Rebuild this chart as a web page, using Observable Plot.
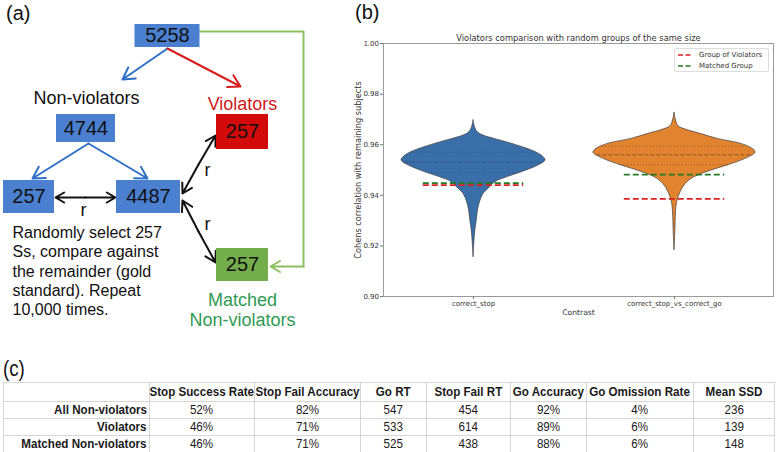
<!DOCTYPE html>
<html><head><meta charset="utf-8">
<script src="https://cdn.jsdelivr.net/npm/d3@7"></script>
<script src="https://cdn.jsdelivr.net/npm/@observablehq/plot@0.6"></script>
<style>
body{margin:0;background:#fff;}
#root{position:relative;width:776px;height:452px;overflow:hidden;font-family:"Liberation Sans",Arial,sans-serif;}
.plabel{position:absolute;font-family:"Liberation Sans",Arial,sans-serif;font-size:20px;color:#111;line-height:1;}
#legend{position:absolute;left:674px;top:48px;width:93px;height:22px;border:1px solid #ddd;border-radius:2px;background:rgba(255,255,255,0.85);font-family:"DejaVu Sans",sans-serif;font-size:7px;color:#333;}
#legend .row{position:absolute;left:3px;height:10px;display:flex;align-items:center;}
#legend svg{margin-right:6px;}
#tbl{position:absolute;left:3px;top:382px;border-collapse:collapse;font-family:"Liberation Sans",Arial,sans-serif;font-size:13.5px;color:#1a1a1a;table-layout:fixed;}
#tbl td,#tbl th{border:1px solid #d6d6d6;padding:0 2px;height:16px;line-height:16px;text-align:center;white-space:nowrap;overflow:visible;}
#tbl th{font-weight:bold;height:18px;}
#tbl td.rh{font-weight:bold;text-align:right;}
#tbl span{display:inline-block;transform:scaleX(0.86);transform-origin:center;margin:0 -40px;}
#tbl td.rh span{transform-origin:right;margin:0 0 0 -60px;}
</style></head><body><div id="root"></div>
<script>
// ================= DATA =================
// Panel (a): group sizes
const totalSubjects = "5258";
const nonViolatorsN = "4744";
const randomSampleN = "257";
const remainderN = "4487";
const violatorsN = "257";
const matchedN = "257";
const diagramTexts = ["Non-violators", "Violators", "Matched", "Non-violators", "r"];
const procedureText = ["Randomly select 257", "Ss, compare against", "the remainder (gold", "standard). Repeat", "10,000 times."];

// Panel (b): violin profiles (correlation value, half-width in category units)
const contrasts = ["correct_stop", "correct_stop_vs_correct_go"];
const stopValues = [0.9696, 0.9669, 0.9650, 0.9636, 0.9623, 0.9604, 0.9571, 0.9551, 0.9538, 0.9518, 0.9491, 0.9472, 0.9452, 0.9426, 0.9406, 0.9373, 0.9340, 0.9300, 0.9261, 0.9208, 0.9155];
const stopWidths = [0, 0.0075, 0.02, 0.05, 0.104, 0.189, 0.308, 0.348, 0.358, 0.323, 0.239, 0.169, 0.109, 0.075, 0.05, 0.032, 0.022, 0.016, 0.009, 0.0035, 0];
const goValues = [0.9726, 0.9696, 0.9673, 0.9660, 0.9643, 0.9623, 0.9604, 0.9584, 0.9568, 0.9544, 0.9518, 0.9491, 0.9465, 0.9439, 0.9412, 0.9373, 0.9333, 0.9254, 0.9182];
const goWidths = [0, 0.0075, 0.02, 0.055, 0.129, 0.214, 0.328, 0.388, 0.403, 0.353, 0.264, 0.159, 0.085, 0.05, 0.03, 0.013, 0.0075, 0.004, 0];
const stopQuartiles = [0.9491, 0.9531, 0.9570];
const goQuartiles = [0.9521, 0.9560, 0.9594];
const violatorsCorr = [0.9440, 0.9386];
const matchedCorr = [0.9448, 0.9482];
const yTicks = [0.90, 0.92, 0.94, 0.96, 0.98, 1.00];
const legendLabels = ["Group of Violators", "Matched Group"];
const chartTitle = "Violators comparison with random groups of the same size";
const yLabel = "Cohens correlation with remaining subjects";
const xLabel = "Contrast";

// Panel (c): table
const tableColumns = ["Stop Success Rate", "Stop Fail Accuracy", "Go RT", "Stop Fail RT", "Go Accuracy", "Go Omission Rate", "Mean SSD"];
const tableRowNames = ["All Non-violators", "Violators", "Matched Non-violators"];
const allNonViolatorsRow = ["52%", "82%", "547", "454", "92%", "4%", "236"];
const violatorsRow = ["46%", "71%", "533", "614", "89%", "6%", "139"];
const matchedRow = ["46%", "71%", "525", "438", "88%", "6%", "148"];

// ================= LAYOUT / STYLE =================
const root = document.getElementById("root");
const BLUE_BOX = "#4b7fd0", RED_BOX = "#d20a0a", GREEN_BOX = "#74ae4c";
const BLUE_ARROW = "#2f6fc5", RED_ARROW = "#d81c1c", GREEN_LINE = "#8dc05f";

function addLabel(txt, left, top) {
  const d = document.createElement("div");
  d.className = "plabel"; d.textContent = txt;
  d.style.left = left + "px"; d.style.top = top + "px";
  root.appendChild(d);
  return d;
}

// ---------- Panel (a) diagram ----------
const nodeLayout = [
  {cx: 167, cy: 35.5, w: 65, h: 23, fill: BLUE_BOX},
  {cx: 85.5, cy: 128, w: 59, h: 28, fill: BLUE_BOX},
  {cx: 28.5, cy: 196.5, w: 51, h: 33, fill: BLUE_BOX},
  {cx: 148, cy: 196.5, w: 64, h: 33, fill: BLUE_BOX},
  {cx: 242, cy: 131.5, w: 52, h: 35, fill: RED_BOX},
  {cx: 242, cy: 264.5, w: 52, h: 33, fill: GREEN_BOX}
];
const nodeLabels = [totalSubjects, nonViolatorsN, randomSampleN, remainderN, violatorsN, matchedN];
const nodes = nodeLabels.map((label, i) => ({label, ...nodeLayout[i]}));

const arrowLayout = [
  {x1: 167, y1: 48, x2: 122, y2: 79, c: BLUE_ARROW},
  {x1: 167, y1: 48, x2: 240, y2: 86, c: RED_ARROW},
  {x1: 88, y1: 143, x2: 32, y2: 178, c: BLUE_ARROW},
  {x1: 88, y1: 143, x2: 147, y2: 178, c: BLUE_ARROW},
  {x1: 85, y1: 197, x2: 55, y2: 197, c: "#111"},
  {x1: 85, y1: 197, x2: 115, y2: 197, c: "#111"},
  {x1: 198, y1: 164, x2: 182, y2: 193, c: "#111"},
  {x1: 198, y1: 164, x2: 215, y2: 135, c: "#111"},
  {x1: 198, y1: 231, x2: 182, y2: 200, c: "#111"},
  {x1: 198, y1: 231, x2: 215, y2: 262, c: "#111"},
  {x1: 303, y1: 266, x2: 270, y2: 266, c: GREEN_LINE}
];
const greenPath = [{x: 199, y: 31}, {x: 303, y: 31}, {x: 303, y: 266}];
const textLayout = [
  {t: diagramTexts[0], x: 86, y: 98, c: "#111"},
  {t: diagramTexts[1], x: 242, y: 104, c: "#d01818"},
  {t: diagramTexts[2], x: 242, y: 300, c: "#2f9a55"},
  {t: diagramTexts[3], x: 242, y: 320, c: "#2f9a55"},
  {t: diagramTexts[4], x: 83, y: 210, c: "#111"},
  {t: diagramTexts[4], x: 207, y: 170, c: "#111"},
  {t: diagramTexts[4], x: 207, y: 224, c: "#111"}
];

const plotA = Plot.plot({
  width: 330, height: 332, margin: 0,
  x: {domain: [0, 330], range: [0, 330]},
  y: {domain: [0, 332], range: [0, 332]},
  color: {type: "identity"},
  axis: null,
  style: {fontFamily: "'Liberation Sans', Arial, sans-serif", background: "transparent", overflow: "visible"},
  marks: [
    Plot.line(greenPath, {x: "x", y: "y", stroke: GREEN_LINE, strokeWidth: 2}),
    Plot.arrow(arrowLayout, {x1: "x1", y1: "y1", x2: "x2", y2: "y2", stroke: "c", strokeWidth: 2, headLength: 10, headAngle: 60}),
    Plot.rect(nodes, {x1: d => d.cx - d.w / 2, x2: d => d.cx + d.w / 2, y1: d => d.cy - d.h / 2, y2: d => d.cy + d.h / 2, fill: "fill"}),
    Plot.text(nodes, {x: "cx", y: "cy", text: "label", fontSize: 20, fill: "#111"}),
    Plot.text(textLayout, {x: "x", y: "y", text: "t", fill: "c", fontSize: 18}),
    Plot.text([procedureText.join("\n")], {x: 12, y: 224, textAnchor: "start", lineAnchor: "top", lineHeight: 1.2, fontSize: 16, fill: "#111"})
  ]
});
plotA.style.position = "absolute"; plotA.style.left = "0px"; plotA.style.top = "0px";
root.appendChild(plotA);

// ---------- Panel (b) violins ----------
function interp(values, widths, v) {
  for (let i = 0; i < values.length - 1; i++) {
    const a = values[i], b = values[i + 1];
    if (v <= a && v >= b) { const t = (a - v) / (a - b); return widths[i] + t * (widths[i + 1] - widths[i]); }
  }
  return 0;
}
const profiles = [
  {values: stopValues, widths: stopWidths, q: stopQuartiles, fill: "#3a6ea8", inner: "rgba(20,40,80,0.35)"},
  {values: goValues, widths: goWidths, q: goQuartiles, fill: "#e1832f", inner: "rgba(70,40,15,0.55)"}
];
const violinMarks = [];
profiles.forEach((p, i) => {
  const rows = p.values.map((v, j) => ({value: v, hw: p.widths[j]}));
  violinMarks.push(Plot.areaX(rows, {y: "value", x1: d => i - d.hw, x2: d => i + d.hw, fill: p.fill, stroke: "#3d3d3d", strokeWidth: 0.7, curve: "catmull-rom"}));
  const qs = p.q.map((v, k) => ({value: v, hw: interp(p.values, p.widths, v), median: k === 1}));
  violinMarks.push(Plot.ruleY(qs.filter(d => !d.median), {y: "value", x1: d => i - d.hw, x2: d => i + d.hw, stroke: p.inner, strokeWidth: 0.8, strokeDasharray: "1,2"}));
  violinMarks.push(Plot.ruleY(qs.filter(d => d.median), {y: "value", x1: d => i - d.hw, x2: d => i + d.hw, stroke: p.inner, strokeWidth: 0.9, strokeDasharray: "4,2"}));
});
const violRows = contrasts.map((c, i) => ({pos: i, v: violatorsCorr[i]}));
const matchRows = contrasts.map((c, i) => ({pos: i, v: matchedCorr[i]}));
const RED_DASH = "#d92222", GREEN_DASH = "#237a23";

const plotB = Plot.plot({
  width: 446, height: 320,
  marginLeft: 53, marginRight: 3, marginTop: 43, marginBottom: 24,
  x: {domain: [-0.448, 1.4925]},
  y: {domain: [0.9, 1.0]},
  style: {fontFamily: "'DejaVu Sans', sans-serif", color: "#333", background: "transparent", overflow: "visible"},
  marks: [
    ...violinMarks,
    Plot.ruleY(violRows, {y: "v", x1: d => d.pos - 0.25, x2: d => d.pos + 0.25, stroke: RED_DASH, strokeWidth: 1.8, strokeDasharray: "6,3"}),
    Plot.ruleY(matchRows, {y: "v", x1: d => d.pos - 0.25, x2: d => d.pos + 0.25, stroke: GREEN_DASH, strokeWidth: 1.8, strokeDasharray: "6,3"}),
    Plot.frame({stroke: "#9a9a9a", strokeWidth: 1}),
    Plot.axisY(yTicks, {tickFormat: d3.format(".2f"), tickSize: 3, tickPadding: 1.5, fontSize: 7, label: null, stroke: "#777"}),
    Plot.axisX([0, 1], {tickFormat: i => contrasts[i], tickSize: 3, tickPadding: 1.5, fontSize: 7, label: null, stroke: "#777"}),
    Plot.text([chartTitle], {frameAnchor: "top", dy: -5, textAnchor: "middle", lineAnchor: "middle", fontSize: 8.3, fill: "#333"}),
    Plot.text([xLabel], {frameAnchor: "bottom", dy: 16, textAnchor: "middle", lineAnchor: "middle", fontSize: 7.6, fill: "#333"}),
    Plot.text([yLabel], {frameAnchor: "left", dx: -25, rotate: -90, textAnchor: "middle", lineAnchor: "middle", fontSize: 8.2, fill: "#333"})
  ]
});
plotB.style.position = "absolute"; plotB.style.left = "330px"; plotB.style.top = "0px";
root.appendChild(plotB);

// legend
const legend = document.createElement("div");
legend.id = "legend";
[RED_DASH, GREEN_DASH].forEach((c, i) => {
  const row = document.createElement("div");
  row.className = "row"; row.style.top = (i === 0 ? 1 : 12) + "px";
  row.innerHTML = `<svg width="15" height="4"><line x1="0" y1="2" x2="15" y2="2" stroke="${c}" stroke-width="1.5" stroke-dasharray="5,2.5"/></svg><span>${legendLabels[i]}</span>`;
  legend.appendChild(row);
});
root.appendChild(legend);

// ---------- Panel (c) table ----------
const colWidths = [146, 105, 106, 66, 84, 76, 107, 81];
const tbl = document.createElement("table");
tbl.id = "tbl";
let html = "<colgroup>" + colWidths.map(w => `<col style="width:${w}px">`).join("") + "</colgroup>";
html += "<tr><th></th>" + tableColumns.map(c => `<th><span>${c}</span></th>`).join("") + "</tr>";
[allNonViolatorsRow, violatorsRow, matchedRow].forEach((r, i) => {
  html += `<tr><td class="rh"><span>${tableRowNames[i]}</span></td>` + r.map(v => `<td><span>${v}</span></td>`).join("") + "</tr>";
});
tbl.innerHTML = html;
tbl.style.width = d3.sum(colWidths) + "px";
root.appendChild(tbl);

// panel labels
addLabel("(a)", 6, 3);
addLabel("(b)", 355, 2);
const lc = addLabel("(c)", 3, 358);
lc.style.fontSize = "22px";
lc.style.transform = "scaleX(0.85)"; lc.style.transformOrigin = "left";
</script>
</body></html>
